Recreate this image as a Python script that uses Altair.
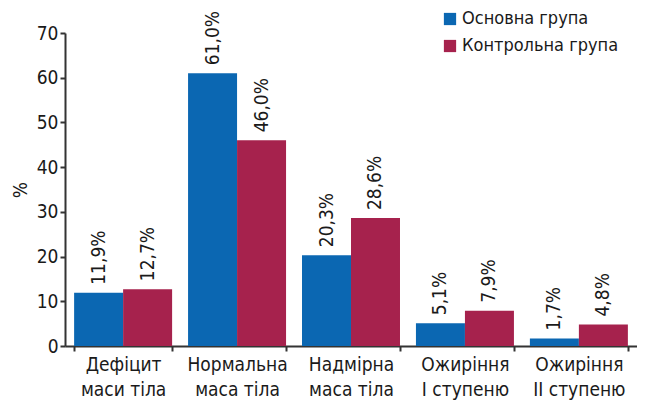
import altair as alt
import pandas as pd

categories = ["Дефіцит\nмаси тіла", "Нормальна\nмаса тіла", "Надмірна\nмаса тіла",
              "Ожиріння\nI ступеню", "Ожиріння\nII ступеню"]
groups = ["Основна група", "Контрольна група"]
main_vals = [11.9, 61.0, 20.3, 5.1, 1.7]
control_vals = [12.7, 46.0, 28.6, 7.9, 4.8]
colors = ["#0b67b2", "#a6224d"]

rows = []
for c, v in zip(categories, main_vals):
    rows.append({"cat": c, "group": groups[0], "value": v})
for c, v in zip(categories, control_vals):
    rows.append({"cat": c, "group": groups[1], "value": v})
df = pd.DataFrame(rows)

FONT = "'Liberation Sans Narrow', 'DejaVu Sans Condensed', 'Roboto', sans-serif"

x = alt.X("cat:N", sort=categories, title=None,
          scale=alt.Scale(paddingInner=0.14, paddingOuter=0.08),
          axis=alt.Axis(labelExpr="split(datum.label, '\\n')", labelAngle=0,
                        labelFontSize=19, labelLineHeight=25, labelPadding=4,
                        tickBand="extent", tickSize=5, domainWidth=2, tickWidth=2,
                        labelColor="#1a1a1a", domainColor="#333", tickColor="#333"))
xo = alt.XOffset("group:N", sort=groups)
y = alt.Y("value:Q", title="%", scale=alt.Scale(domain=[0, 70]),
          axis=alt.Axis(values=list(range(0, 71, 10)), grid=False, labelFontSize=19,
                        titleFontSize=19, titleFontWeight="normal", titlePadding=6,
                        tickSize=5, domainWidth=2, tickWidth=2, labelPadding=2,
                        labelColor="#1a1a1a", titleColor="#1a1a1a",
                        domainColor="#333", tickColor="#333"))

bars = alt.Chart(df).mark_bar().encode(
    x=x, xOffset=xo, y=y,
    color=alt.Color("group:N", sort=groups,
                    scale=alt.Scale(domain=groups, range=colors),
                    legend=alt.Legend(title=None, orient="none", legendX=376, legendY=-23,
                                      symbolType="square", symbolSize=150,
                                      symbolStrokeWidth=0, labelFontSize=18,
                                      labelLimit=300,
                                      labelColor="#1a1a1a", rowPadding=9, labelOffset=3)),
)

labels = alt.Chart(df).transform_calculate(
    txt="replace(format(datum.value, '.1f'), '.', ',') + '%'"
).mark_text(angle=270, align="left", baseline="middle", dx=8, fontSize=19,
            color="#1a1a1a").encode(
    x=alt.X("cat:N", sort=categories), xOffset=alt.XOffset("group:N", sort=groups),
    y=alt.Y("value:Q"), text="txt:N",
)

chart = alt.layer(bars, labels).properties(
    width=572, height=313,
    autosize=alt.AutoSizeParams(type="none"),
    padding={"left": 57, "top": 25, "right": 0, "bottom": 55},
).configure(font=FONT).configure_view(stroke=None)

chart.save("out.html", embed_options={"renderer": "svg", "actions": False})
